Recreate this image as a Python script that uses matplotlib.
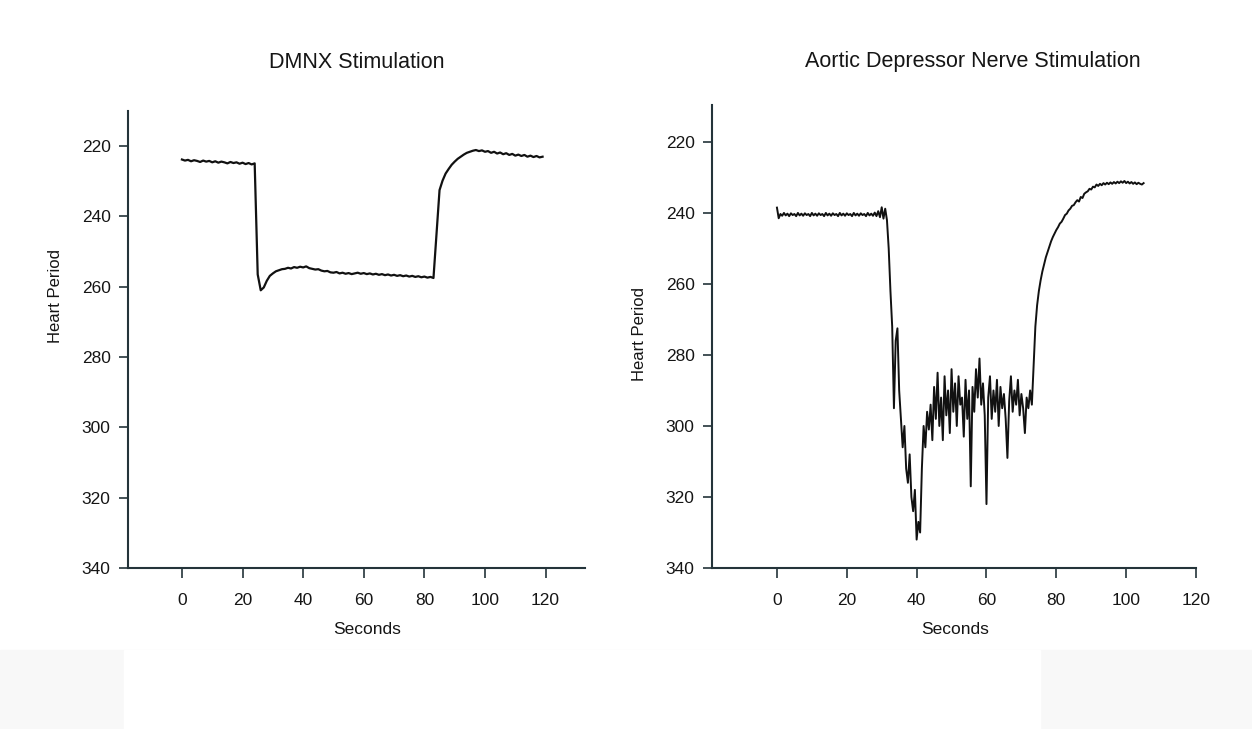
import numpy as np
import matplotlib
matplotlib.use('Agg')
import matplotlib.pyplot as plt
from matplotlib.patches import Rectangle

plt.rcParams['font.family'] = ['Liberation Sans', 'DejaVu Sans']

# heart period traces, DMNX sampled every 1 s, aortic nerve every 0.5 s
dmnx_step = 1.0
dmnx_hp = [223.8, 224.1, 223.9, 224.3, 224.0, 224.2, 224.5, 224.1, 224.4, 224.2,
           224.6, 224.3, 224.7, 224.4, 224.6, 224.9, 224.5, 224.8, 224.6, 225.0,
           224.7, 225.1, 224.8, 225.2, 224.9,
           256.5,
           261.0, 260.2, 258.3, 256.9, 256.2, 255.6, 255.3, 255.0, 254.9, 254.6,
           254.8, 254.4, 254.6, 254.3, 254.5, 254.2, 254.7, 254.9, 255.1, 255.0,
           255.4, 255.6, 255.5, 255.9, 256.0, 255.8, 256.2, 256.0, 256.3, 256.1,
           256.4, 256.2, 256.0, 256.3, 256.1, 256.4, 256.2, 256.5, 256.3, 256.6,
           256.4, 256.7, 256.5, 256.8, 256.6, 256.9, 256.7, 257.0, 256.8, 257.1,
           256.9, 257.2, 257.0, 257.3, 257.1, 257.4, 257.2, 257.5,
           245.0, 232.5, 229.8, 227.8, 226.5, 225.3, 224.4, 223.6, 223.0, 222.4,
           221.9, 221.6, 221.3, 221.1, 221.4, 221.2, 221.6, 221.4, 221.9, 221.6,
           222.1, 221.8, 222.3, 222.0, 222.5, 222.2, 222.7, 222.4, 222.8, 222.5,
           223.0, 222.7, 223.1, 222.8, 223.2, 223.0]

adn_step = 0.5
adn_hp = [238.5, 241.5, 240.3, 240.8, 240.0, 240.7, 240.2, 240.9, 240.1, 240.6,
          240.3, 240.9, 240.0, 240.7, 240.2, 240.8, 240.1, 240.6, 240.3, 240.9,
          240.0, 240.7, 240.2, 240.8, 240.1, 240.6, 240.3, 240.9, 240.0, 240.7,
          240.2, 240.8, 240.1, 240.6, 240.3, 240.9, 240.0, 240.7, 240.2, 240.8,
          240.1, 240.6, 240.3, 240.9, 240.0, 240.7, 240.2, 240.8, 240.1, 240.6,
          240.3, 240.9, 240.0, 240.7, 240.2, 240.8, 239.9, 240.9, 239.5, 241.2,
          238.4, 241.6, 238.8, 242.0,
          250.0, 262.0, 272.0, 295.0, 276.0, 272.5, 290.0, 298.0, 306.0, 300.0,
          312.0, 316.0, 308.0, 320.0, 324.0, 318.0, 332.0, 327.0, 330.0, 312.0,
          300, 306, 296, 301, 294, 304, 289, 298, 285, 300,
          292, 304, 286, 297, 290, 302, 284, 296, 288, 300,
          286, 294, 292, 303, 287, 298, 290, 317, 289, 296,
          284, 292, 281, 294, 288, 297, 322, 292, 286, 298,
          290, 296, 287, 300, 289, 295, 291, 298, 309, 293,
          286, 296, 290, 294, 287, 297, 291, 295, 302, 292,
          295, 290, 294, 283,
          272, 266, 262, 259, 256.5, 254.5, 252.5, 251, 249.5, 248,
          246.8, 245.8, 244.8, 244.0, 243.0, 242.5, 241.6, 240.6, 240.2, 239.3,
          238.8, 238.0, 237.8, 237.0, 236.4, 236.8, 235.5, 235.8, 234.6, 234.2,
          233.9, 233.2, 233.4, 232.6, 232.8, 232.0, 232.4, 231.8, 232.2, 231.6,
          232.0, 231.5, 231.9, 231.4, 231.8, 231.3, 231.7, 231.2, 231.6, 231.1,
          231.5, 231.0, 231.6, 231.2, 231.7, 231.3, 231.8, 231.4, 231.9, 231.5,
          231.8, 232.0, 231.6]

xticks = [0, 20, 40, 60, 80, 100, 120]
yticks = [220, 240, 260, 280, 300, 320, 340]

W, H = 1252, 729
fig = plt.figure(figsize=(W / 100, H / 100), dpi=100)

# faint grey strip along the bottom with a white panel in it
fig.patches.append(Rectangle((0, 0), 1, 79 / H, transform=fig.transFigure,
                             color='#f8f8f8', zorder=-10))
fig.patches.append(Rectangle((124 / W, 0), (1040 - 124) / W, 79 / H,
                             transform=fig.transFigure, color='white', zorder=-9))

axcol = '#24343a'
txtcol = '#151515'


def style(ax, xlim, ylim):
    ax.set_xlim(*xlim)
    ax.set_ylim(*ylim)
    for s in ['top', 'right']:
        ax.spines[s].set_visible(False)
    for s in ['left', 'bottom']:
        ax.spines[s].set_color(axcol)
        ax.spines[s].set_linewidth(1.5)
    ax.set_xticks(xticks)
    ax.set_yticks(yticks)
    ax.tick_params(axis='y', length=6.5, width=1.2, color=axcol, pad=6,
                   labelsize=12.5, labelcolor=txtcol)
    ax.tick_params(axis='x', length=7, width=1.2, color=axcol, pad=11,
                   labelsize=12.5, labelcolor=txtcol)
    ax.patch.set_alpha(0)


ax1 = fig.add_axes([128 / W, 1 - 568 / H, (585 - 128) / W, (568 - 111) / H])
t1 = np.arange(len(dmnx_hp)) * dmnx_step
ax1.plot(t1, dmnx_hp, color='#111111', lw=1.6)
style(ax1, (-17.8, 133), (340, 210))

ax2 = fig.add_axes([712 / W, 1 - 568 / H, (1196 - 712) / W, (568 - 105) / H])
t2 = np.arange(len(adn_hp)) * adn_step
ax2.plot(t2, adn_hp, color='#111111', lw=1.4)
style(ax2, (-18.6, 120), (340, 209.6))

fig.text(357 / W, 1 - 62 / H, 'DMNX Stimulation', ha='center', va='center',
         fontsize=15.5, color=txtcol)
fig.text(973 / W, 1 - 62 / H, 'Aortic Depressor Nerve Stimulation',
         ha='center', va='center', fontsize=15.5, color=txtcol)

fig.text(367 / W, 1 - 630 / H, 'Seconds', ha='center', va='center',
         fontsize=12.5, color=txtcol)
fig.text(955 / W, 1 - 629 / H, 'Seconds', ha='center', va='center',
         fontsize=12.5, color=txtcol)
fig.text(55 / W, 1 - 296 / H, 'Heart Period', ha='center', va='center',
         rotation=90, fontsize=12, color=txtcol)
fig.text(640 / W, 1 - 334 / H, 'Heart Period', ha='center', va='center',
         rotation=90, fontsize=12, color=txtcol)

fig.savefig('out.png', dpi=100)
